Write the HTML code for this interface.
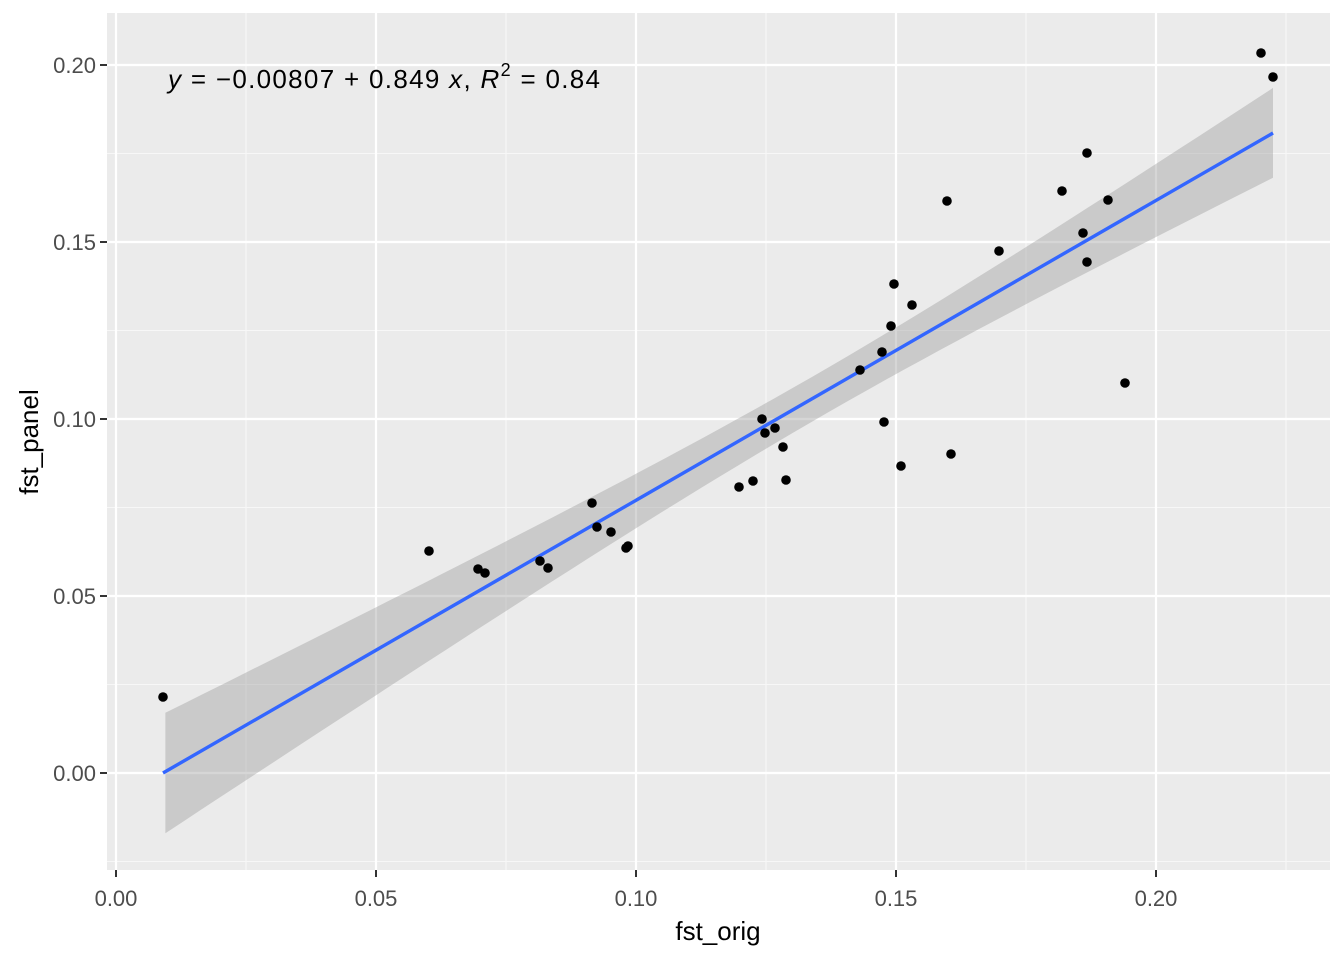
<!DOCTYPE html>
<html><head><meta charset="utf-8">
<style>
html,body{margin:0;padding:0;background:#fff;}
svg{display:block;font-family:"Liberation Sans",Arial,sans-serif;}
</style></head>
<body>
<svg id="s" width="1344" height="960" viewBox="0 0 1344 960" xmlns="http://www.w3.org/2000/svg">
<rect x="0" y="0" width="1344" height="960" fill="#fff"/>
<rect x="107" y="13" width="1223" height="857" fill="#ebebeb"/>
<g stroke="#f7f7f7" stroke-width="1.1">
<line x1="107" x2="1330" y1="153.5" y2="153.5"/>
<line x1="107" x2="1330" y1="330.5" y2="330.5"/>
<line x1="107" x2="1330" y1="507.5" y2="507.5"/>
<line x1="107" x2="1330" y1="684.5" y2="684.5"/>
<line x1="107" x2="1330" y1="861.5" y2="861.5"/>
<line x1="246" x2="246" y1="13" y2="870"/>
<line x1="506" x2="506" y1="13" y2="870"/>
<line x1="766" x2="766" y1="13" y2="870"/>
<line x1="1026" x2="1026" y1="13" y2="870"/>
<line x1="1286" x2="1286" y1="13" y2="870"/>
</g>
<g stroke="#fff" stroke-width="2.2">
<line x1="107" x2="1330" y1="65" y2="65"/>
<line x1="107" x2="1330" y1="242" y2="242"/>
<line x1="107" x2="1330" y1="419" y2="419"/>
<line x1="107" x2="1330" y1="596" y2="596"/>
<line x1="107" x2="1330" y1="773" y2="773"/>
<line x1="116" x2="116" y1="13" y2="870"/>
<line x1="376" x2="376" y1="13" y2="870"/>
<line x1="636" x2="636" y1="13" y2="870"/>
<line x1="896" x2="896" y1="13" y2="870"/>
<line x1="1156" x2="1156" y1="13" y2="870"/>
</g>
<polygon id="band" fill="#999" fill-opacity="0.4"/>
<line x1="163" y1="773" x2="1273" y2="133" stroke="#3366ff" stroke-width="3.4"/>
<g id="pts" fill="#000"></g>
<text x="168" y="88" font-size="26" fill="#000" textLength="432" lengthAdjust="spacing"><tspan font-style="italic">y</tspan> = −0.00807 + 0.849 <tspan font-style="italic">x</tspan>, <tspan font-style="italic">R</tspan><tspan font-size="18" dy="-12">2</tspan><tspan dy="12"> = 0.84</tspan></text>
<g font-size="22" fill="#4d4d4d" text-anchor="end">
<text x="96" y="73">0.20</text>
<text x="96" y="250">0.15</text>
<text x="96" y="427">0.10</text>
<text x="96" y="604">0.05</text>
<text x="96" y="781">0.00</text>
</g>
<g stroke="#333" stroke-width="2">
<line x1="100" x2="107" y1="65" y2="65"/><line x1="100" x2="107" y1="242" y2="242"/>
<line x1="100" x2="107" y1="419" y2="419"/><line x1="100" x2="107" y1="596" y2="596"/>
<line x1="100" x2="107" y1="773" y2="773"/>
<line x1="116" x2="116" y1="870" y2="877"/><line x1="376" x2="376" y1="870" y2="877"/>
<line x1="636" x2="636" y1="870" y2="877"/><line x1="896" x2="896" y1="870" y2="877"/>
<line x1="1156" x2="1156" y1="870" y2="877"/>
</g>
<g font-size="22" fill="#4d4d4d" text-anchor="middle">
<text x="116" y="906">0.00</text>
<text x="376" y="906">0.05</text>
<text x="636" y="906">0.10</text>
<text x="896" y="906">0.15</text>
<text x="1156" y="906">0.20</text>
</g>
<text x="718" y="940" font-size="26" text-anchor="middle" fill="#000">fst_orig</text>
<text transform="translate(38,442) rotate(-90)" font-size="26" text-anchor="middle" fill="#000">fst_panel</text>
</svg>
<script>
(function(){
var up=[],lo=[];
for(var i=0;i<=60;i++){
 var x=0.0095+(0.2225-0.0095)*i/60;
 var y=-0.00807+0.849*x;
 var hw=Math.sqrt(0.00004+0.01581*(x-0.135)*(x-0.135));
 var px=116+x*5200;
 up.push(px.toFixed(1)+","+(773-(y+hw)*3540).toFixed(1));
 lo.unshift(px.toFixed(1)+","+(773-(y-hw)*3540).toFixed(1));
}
document.getElementById("band").setAttribute("points",up.concat(lo).join(" "));
var p=[[163,697],[429,551],[478,569],[485,573],[540,561],[548,568],[592,503],[597,527],[611,532],[626,548],[628,546],[739,487],[753,481],[762,419],[765,433],[775,428],[783,447],[786,480],[860,370],[882,352],[884,422],[891,326],[894,284],[901,466],[912,305],[947,201],[951,454],[999,251],[1062,191],[1083,233],[1087,153],[1087,262],[1108,200],[1125,383],[1261,53],[1273,77]];
var g=document.getElementById("pts"),h="";
p.forEach(function(q){h+='<circle cx="'+q[0]+'" cy="'+q[1]+'" r="4.8"/>';});
g.innerHTML=h;
})();
</script>
</body></html>
